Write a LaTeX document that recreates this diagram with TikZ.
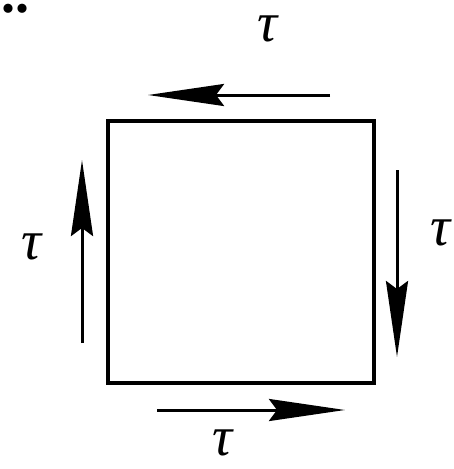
\documentclass[tikz,border=0pt]{standalone}
\usepackage{fontspec}
\setmainfont{Liberation Serif}
\usepackage{tikz}
\usetikzlibrary{arrows.meta}

\begin{document}
\begin{tikzpicture}[x=1pt, y=-1pt,
    stress/.style={line width=3pt, -{Stealth[length=76pt, width=22pt, inset=8pt]}},
    tlabel/.style={inner sep=0pt, font=\fontsize{56}{56}\selectfont\itshape}]
  \useasboundingbox (0,0) rectangle (453,469);
  \node[anchor=base west, inner sep=0pt, font=\fontsize{56}{56}\selectfont\bfseries] (dots) at (1,12) {..};
  % element
  \node[draw, line width=4.5pt, minimum width=266pt, minimum height=262pt, inner sep=0pt] (elem) at (241,252) {};
  % shear stresses
  \coordinate (ta) at (330,95);  \coordinate (tb) at (148,95);
  \coordinate (la) at (82,343);  \coordinate (lb) at (82,160);
  \coordinate (ra) at (397,170); \coordinate (rb) at (397,357);
  \coordinate (ba) at (157,410); \coordinate (bb) at (345,410);
  \draw[stress] (ta) -- (tb);
  \draw[stress] (la) -- (lb);
  \draw[stress] (ra) -- (rb);
  \draw[stress] (ba) -- (bb);
  \node[tlabel] (ttop) at (268,29) {τ};
  \node[tlabel] (tleft) at (32,247) {τ};
  \node[tlabel] (tright) at (441,233) {τ};
  \node[tlabel] (tbot) at (223,443) {τ};
\end{tikzpicture}
\end{document}
